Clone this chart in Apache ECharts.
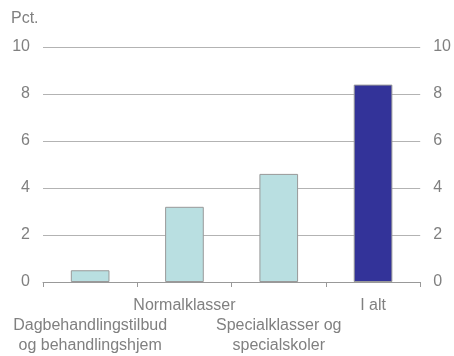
<!DOCTYPE html>
<html>
<head>
<meta charset="utf-8">
<script src="https://cdn.jsdelivr.net/npm/echarts@6/dist/echarts.min.js"></script>
<style>
  html, body { margin: 0; padding: 0; background: #fff; }
  #chart { width: 454px; height: 356px; }
</style>
</head>
<body>
<div id="chart"></div>
<script>
// Category labels (two-line labels use a line break)
const categories = [
  'Dagbehandlingstilbud\nog behandlingshjem',
  'Normalklasser',
  'Specialklasser og\nspecialskoler',
  'I alt'
];
const values = [0.5, 3.2, 4.6, 8.4];
const barColors = ['#b9dfe1', '#b9dfe1', '#b9dfe1', '#333399'];
const yTicks = [0, 2, 4, 6, 8, 10];

const textColor = '#808080';
const fontFamily = '"Liberation Sans", Arial, sans-serif';
const fontSize = 16;

const chart = echarts.init(document.getElementById('chart'));

const yAxisBase = {
  type: 'value',
  min: yTicks[0],
  max: yTicks[yTicks.length - 1],
  interval: 2,
  axisLine: { show: false },
  axisTick: { show: false },
  axisLabel: { color: textColor, fontSize: fontSize, fontFamily: fontFamily, margin: 13 }
};

chart.setOption({
  animation: false,
  graphic: [{
    type: 'text',
    left: 11,
    top: 11,
    style: { text: 'Pct.', fill: textColor, fontSize: fontSize, fontFamily: fontFamily }
  }],
  grid: { left: 43, right: 32, top: 47, bottom: 72 },
  xAxis: {
    type: 'category',
    data: categories,
    axisLine: { lineStyle: { color: '#999999', width: 1 } },
    axisTick: { show: true, length: 5, lineStyle: { color: '#999999' } },
    axisLabel: {
      interval: 0,
      color: textColor,
      fontSize: fontSize,
      fontFamily: fontFamily,
      lineHeight: 20,
      margin: 14,
      formatter: function (v, i) {
        // stagger labels so long ones don't collide
        return i % 2 === 0 ? '\n' + v : v;
      }
    }
  },
  yAxis: [
    Object.assign({}, yAxisBase, {
      position: 'left',
      splitLine: { show: true, lineStyle: { color: '#b3b3b3', width: 1 } }
    }),
    Object.assign({}, yAxisBase, {
      position: 'right',
      splitLine: { show: false }
    })
  ],
  series: [{
    type: 'bar',
    data: values.map(function (v, i) {
      return { value: v, itemStyle: { color: barColors[i] } };
    }),
    barWidth: '41%',
    itemStyle: { borderColor: '#999999', borderWidth: 1 }
  }]
});
</script>
</body>
</html>
